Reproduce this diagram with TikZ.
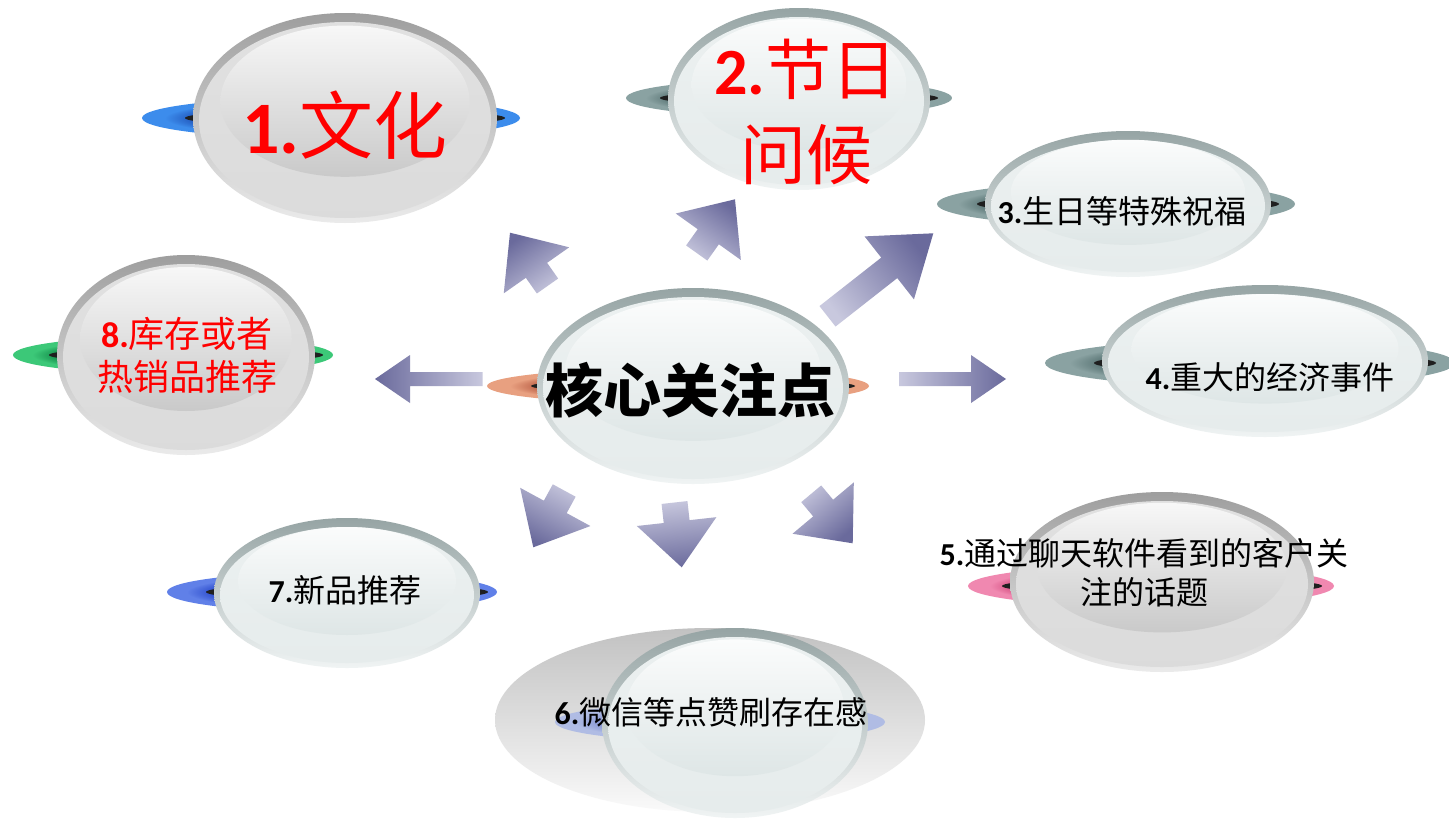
\documentclass[tikz,border=0pt]{standalone}
\usepackage{fontspec}
\setmainfont{Noto Sans CJK SC}
\newfontfamily\latn{Carlito}
\usetikzlibrary{calc}
\definecolor{arrdark}{HTML}{6A6A9C}
\definecolor{arrlight}{HTML}{C8C8DE}
\colorlet{discin}{black}
\colorlet{discout}{blue}
\pgfdeclareradialshading[discin,discout]{discshade}{\pgfpointorigin}{color(0bp)=(discin); color(17bp)=(discin); color(22bp)=(discout); color(25bp)=(discout); color(50bp)=(discout)}
\tikzset{
  rimg/.style={top color=black!38, bottom color=black!8},
  bodyg/.style={top color=black!12, middle color=black!22, bottom color=black!14},
  hlg/.style={top color=black!3, bottom color=black!21},
  rimt/.style={top color={rgb,255:red,150;green,164;blue,164}, bottom color={rgb,255:red,240;green,244;blue,244}},
  bodyt/.style={top color={rgb,255:red,235;green,240;blue,240}, middle color={rgb,255:red,218;green,226;blue,226}, bottom color={rgb,255:red,230;green,236;blue,236}},
  hlt/.style={top color={rgb,255:red,251;green,252;blue,252}, bottom color={rgb,255:red,222;green,230;blue,230}},
  lbl/.style={inner sep=0pt, align=center},
}
\newcommand\glasslens[5]{%
  \shade[rim#5] (#1,#2) ellipse [x radius=#3, y radius=#4];
  \shade[body#5] (#1,#2+2) ellipse [x radius=#3-6, y radius=#4-7];
  \shade[hl#5] (#1,#2-0.16*#4) ellipse [x radius=0.82*#3, y radius=0.72*#4];
}
\newcommand\disc[8]{%
  \definecolor{discin}{HTML}{#5}\definecolor{discout}{HTML}{#6}%
  \shade[shading=discshade] (#1,#2) ellipse [x radius=#3, y radius=#4];
  \fill[black!88] (#7,#2) ellipse [x radius=#8, y radius=0.42*#4];
}
\newcommand\blockarr[6]{%
  \coordinate (#1h) at ($(#2)!#5!(#1)$);
  \shade[top color=arrdark, bottom color=arrlight, shading angle=#6]
    ($(#1)!#3!90:(#2)$) -- ($(#1h)!#3!90:(#2)$) -- ($(#1h)!#4!90:(#2)$) -- (#2)
    -- ($(#1h)!#4!-90:(#2)$) -- ($(#1h)!#3!-90:(#2)$) -- ($(#1)!#3!-90:(#2)$) -- cycle;
}
\begin{document}
\begin{tikzpicture}[x=0.5pt,y=-0.5pt]
\useasboundingbox (0,0) rectangle (1449,819);
\fill[white] (0,0) rectangle (1449,819);

% node 1
\disc{331}{118}{189}{21}{1A4AB0}{3C8CEC}{345}{160}
\glasslens{345}{118}{152}{105}{g}
% node 2
\disc{789}{98}{163}{19}{4E6A6A}{8AA2A2}{799}{139}
\glasslens{799}{99}{131}{91}{t}
% node 3
\disc{1116}{204}{179}{22}{4E6A6A}{8AA2A2}{1128}{151}
\glasslens{1128}{204}{143}{73}{t}
% node 4
\disc{1250}{363}{205}{24}{4E6A6A}{8AA2A2}{1265}{171}
\glasslens{1265}{361}{163}{76}{t}
% node 5
\disc{1151}{586}{183}{21}{C83068}{F088B0}{1162}{160}
\glasslens{1162}{582}{152}{90}{g}
% node 6
\shade[top color=black!24, bottom color=black!2] (710,720) ellipse [x radius=215, y radius=92];
\disc{720}{722}{165}{20}{8090D0}{B0BCE4}{735}{100}
\glasslens{735}{723}{133}{95}{t}
% node 7
\disc{332}{592}{165}{20}{2444C8}{6080E8}{347}{141}
\glasslens{347}{593}{133}{75}{t}
% node 8
\disc{173}{355}{160}{19}{0A8040}{3CC878}{186}{137}
\glasslens{186}{355}{129}{100}{g}
% centre
\disc{678}{386}{191}{18}{B05038}{E8A080}{693}{162}
\glasslens{693}{386}{156}{98}{t}

% arrows
\coordinate (t1) at (547.5,286);  \coordinate (p1) at (510,232.7);
\coordinate (t2) at (696.7,253);  \coordinate (p2) at (735,199.3);
\coordinate (t3) at (827.5,316.3); \coordinate (p3) at (933.3,233.3);
\coordinate (t4) at (899,379);    \coordinate (p4) at (1006,379);
\coordinate (t5) at (811.2,493.8); \coordinate (p5) at (852.7,543.3);
\coordinate (t6) at (674.5,502.5); \coordinate (p6) at (681.7,567.3);
\coordinate (t7) at (564.2,490.5); \coordinate (p7) at (533.3,547.3);
\coordinate (t8) at (482.5,379);  \coordinate (p8) at (375,379);
\blockarr{t1}{p1}{6.5pt}{20pt}{23pt}{35}
\blockarr{t2}{p2}{6.5pt}{20pt}{23pt}{-35.5}
\blockarr{t3}{p3}{6.5pt}{20pt}{28pt}{-52}
\blockarr{t4}{p4}{3.5pt}{12pt}{17.5pt}{-90}
\blockarr{t5}{p5}{6.5pt}{20pt}{23pt}{-140}
\blockarr{t6}{p6}{6.5pt}{20pt}{23pt}{-173.7}
\blockarr{t7}{p7}{6.5pt}{20pt}{23pt}{151.5}
\blockarr{t8}{p8}{3.5pt}{12pt}{17.5pt}{90}

% texts
\node[lbl, red, font=\fontsize{37}{44}\selectfont] (n1) at (345,125) {{\latn\bfseries 1.}文化};
\node[lbl, red, font=\fontsize{33}{42.5}\selectfont] (n2) at (806,112) {{\latn\bfseries 2.}节日\\问候};
\node[lbl, font=\fontsize{16}{19}\selectfont] (n3) at (1122,211) {{\latn\bfseries 3.}生日等特殊祝福};
\node[lbl, font=\fontsize{16}{19}\selectfont] (n4) at (1270,377) {{\latn\bfseries 4.}重大的经济事件};
\node[lbl, font=\fontsize{16}{19.5}\selectfont] (n5) at (1144,573) {{\latn\bfseries 5.}通过聊天软件看到的客户关\\注的话题};
\node[lbl, font=\fontsize{16}{19}\selectfont] (n6) at (711,712) {{\latn\bfseries 6.}微信等点赞刷存在感};
\node[lbl, font=\fontsize{16}{19}\selectfont] (n7) at (345,590) {{\latn\bfseries 7.}新品推荐};
\node[lbl, red, font=\fontsize{18}{21.5}\selectfont] (n8) at (187,355) {{\latn\bfseries 8.}库存或者\\热销品推荐};
\node[lbl, font=\fontsize{29}{34}\selectfont\bfseries] (c) at (690,390) {核心关注点};
\end{tikzpicture}
\end{document}
